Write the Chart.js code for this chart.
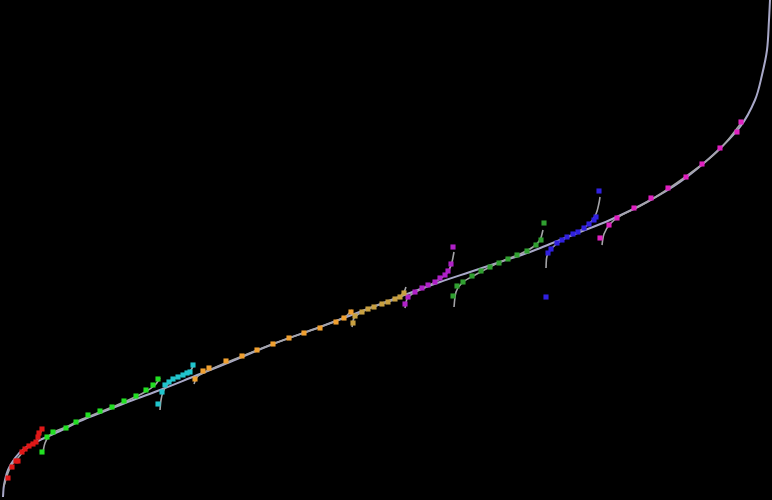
<!DOCTYPE html>
<html>
<head>
<meta charset="utf-8">
<script src="https://cdn.jsdelivr.net/npm/chart.js@4"></script>
<style>
html,body{margin:0;padding:0;background:#000;overflow:hidden;}
#wrap{width:772px;height:500px;background:#000;}
</style>
</head>
<body>
<div id="wrap"><canvas id="c" width="772" height="500"></canvas></div>
<script>
// Overall curve
const mainX = [3,4,8,15,25,40,60,80,100,133,160,195,230,273,320,370,407,440,470,500,530,550,580,610,647,680,713,740,755,762,767,769,770];
const mainY = [3,15,30,42,52,60,69,79,87,100,110,124,138,156,173,192,206,218,228,238,248,256,268,280,298,318,345,373,400,425,450,480,500];

// Segment names and colours
const segNames  = ["red","lightgreen","cyan","orange","tan","purple","darkgreen","blue","pink"];
const segColors = ["#e01818","#22e022","#20c4cc","#f0a030","#c8a040","#b020c8","#30a030","#3020e0","#e020c0"];

// Segment observation points
const redX = [8,12,16,18,22,25,29,33,36,38,39,42];
const redY = [22,33,39,39,48,51,54,56,58,63,67,71];
const lightgreenX = [42,47,53,66,76,88,100,112,124,136,146,153,158];
const lightgreenY = [48,63,68,72,78,85,89,93,99,104,110,115,121];
const cyanX = [158,162,165,169,173,178,183,187,190,193];
const cyanY = [96,108,115,118,121,123,125,127,128,135];
const orangeX = [195,203,209,226,242,257,273,289,304,320,336,344,351];
const orangeY = [121,129,132,139,144,150,156,162,167,172,178,182,188];
const tanX = [353,355,362,368,374,382,388,395,400,404];
const tanY = [177,184,188,191,193,196,198,201,203,207];
const purpleX = [405,408,415,422,428,435,440,445,448,451,453];
const purpleY = [196,203,208,212,215,218,222,225,229,236,253];
const darkgreenX = [453,457,463,472,481,490,499,508,517,527,536,541,544];
const darkgreenY = [204,214,218,224,229,233,237,241,245,249,255,260,277];
const blueX = [546,548,551,557,562,567,573,578,584,589,594,596,599];
const blueY = [203,247,251,257,260,263,266,268,272,276,280,283,309];
const pinkX = [600,609,617,634,651,668,686,702,720,737,741];
const pinkY = [262,275,282,292,302,312,323,336,352,368,378];

// Segment fitted curves
const redFitX = [4,7,11,17,24,31,37,40,42];
const redFitY = [14,24,34,41,49,55,60,66,72];
const lightgreenFitX = [43,45,49,56,66,80,100,124,145,155,160];
const lightgreenFitY = [48,57,64,69,73,80,88,98,108,115,122];
const cyanFitX = [160,161,163,167,172,180,187,191,194];
const cyanFitY = [90,100,108,115,120,124,127,130,136];
const orangeFitX = [194,197,205,230,273,320,345,352];
const orangeFitY = [116,123,128,139,156,173,183,190];
const tanFitX = [352,354,360,370,385,398,404,406];
const tanFitY = [173,182,187,192,197,202,208,213];
const purpleFitX = [405,407,412,422,435,444,449,452,454];
const purpleFitY = [192,201,206,211,218,224,230,238,248];
const darkgreenFitX = [454,456,462,475,500,520,533,540,543];
const darkgreenFitY = [193,208,217,225,238,246,253,260,270];
const blueFitX = [546,547,552,562,578,590,596,599,600];
const blueFitY = [232,244,252,260,268,277,286,297,303];
const pinkFitX = [602,604,610,620,640,668,700,720,742];
const pinkFitY = [255,266,276,284,294,311,334,351,378];

const pts = (xs, ys) => xs.map((x, i) => ({x: x, y: ys[i]}));

const segPts = [[redX,redY],[lightgreenX,lightgreenY],[cyanX,cyanY],[orangeX,orangeY],[tanX,tanY],[purpleX,purpleY],[darkgreenX,darkgreenY],[blueX,blueY],[pinkX,pinkY]];
const segFits = [[redFitX,redFitY],[lightgreenFitX,lightgreenFitY],[cyanFitX,cyanFitY],[orangeFitX,orangeFitY],[tanFitX,tanFitY],[purpleFitX,purpleFitY],[darkgreenFitX,darkgreenFitY],[blueFitX,blueFitY],[pinkFitX,pinkFitY]];

const datasets = [];
datasets.push({
  label: "overall",
  data: pts(mainX, mainY),
  showLine: true,
  borderColor: "#a8a8c8",
  borderWidth: 2,
  pointRadius: 0,
  tension: 0.35,
  order: 3
});
segFits.forEach((f, i) => {
  datasets.push({
    label: segNames[i] + " fit",
    data: pts(f[0], f[1]),
    showLine: true,
    borderColor: "#a4a4a8",
    borderWidth: 1.6,
    pointRadius: 0,
    tension: 0.35,
    order: 2
  });
});
segPts.forEach((p, i) => {
  datasets.push({
    label: segNames[i],
    data: pts(p[0], p[1]),
    showLine: false,
    pointStyle: "rect",
    pointRadius: 3.6,
    pointBorderWidth: 0,
    pointBackgroundColor: segColors[i],
    pointBorderColor: segColors[i],
    order: 1
  });
});

new Chart(document.getElementById("c"), {
  type: "scatter",
  data: { datasets: datasets },
  options: {
    responsive: false,
    animation: false,
    layout: { padding: 0, autoPadding: false },
    plugins: { legend: { display: false }, tooltip: { enabled: false } },
    scales: {
      x: { type: "linear", min: 0, max: 772, display: false },
      y: { type: "linear", min: 0, max: 500, display: false }
    }
  }
});
</script>
</body>
</html>
